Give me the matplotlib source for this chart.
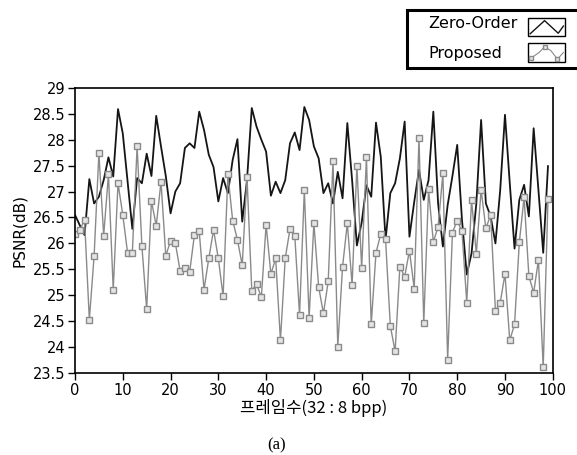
import numpy as np
import matplotlib
matplotlib.use('Agg')
from matplotlib import pyplot as plt
from matplotlib.patches import Rectangle
from matplotlib.lines import Line2D

plt.rcParams['font.family'] = ['Liberation Sans Narrow', 'DejaVu Sans']

frames = np.arange(100)

zero_order = [26.55, 26.35, 26.16, 27.24, 26.77, 26.90, 27.22, 27.66, 27.29, 28.59,
              28.12, 27.20, 26.28, 27.26, 27.16, 27.73, 27.30, 28.46, 27.87, 27.30,
              26.58, 27.00, 27.16, 27.84, 27.93, 27.84, 28.54, 28.19, 27.71, 27.47,
              26.81, 27.26, 26.97, 27.61, 28.01, 26.42, 27.22, 28.61, 28.25, 28.00,
              27.77, 26.92, 27.19, 26.97, 27.22, 27.93, 28.14, 27.80, 28.63, 28.38,
              27.87, 27.64, 26.97, 27.16, 26.77, 27.38, 26.87, 28.32, 27.22, 25.96,
              26.40, 27.12, 26.90, 28.33, 27.67, 26.07, 26.97, 27.16, 27.64, 28.35,
              26.13, 26.80, 27.42, 26.84, 27.22, 28.54, 26.77, 25.94, 26.74, 27.30,
              27.90, 26.45, 25.40, 25.81, 26.77, 28.38, 26.77, 26.52, 26.00, 27.03,
              28.48, 27.16, 25.90, 26.84, 27.13, 26.52, 28.22, 27.03, 25.82, 27.49]

proposed = [26.18, 26.26, 26.45, 24.53, 25.76, 27.74, 26.15, 27.33, 25.11, 27.16,
            26.55, 25.82, 25.82, 27.87, 25.95, 24.73, 26.82, 26.34, 27.19, 25.76,
            26.05, 26.01, 25.47, 25.53, 25.45, 26.17, 26.23, 25.11, 25.71, 26.26,
            25.71, 24.98, 27.33, 26.44, 26.07, 25.58, 27.28, 25.09, 25.22, 24.96,
            26.36, 25.41, 25.71, 24.13, 25.71, 26.28, 26.15, 24.62, 27.03, 24.57,
            26.39, 25.16, 24.65, 25.27, 27.59, 24.01, 25.55, 26.39, 25.20, 27.50,
            25.53, 27.66, 24.44, 25.82, 26.18, 26.08, 24.41, 23.92, 25.55, 25.36,
            25.86, 25.13, 28.03, 24.46, 27.04, 26.03, 26.32, 27.35, 23.76, 26.21,
            26.44, 26.23, 24.86, 26.84, 25.80, 27.03, 26.29, 26.55, 24.70, 24.86,
            25.41, 24.13, 24.44, 26.02, 26.89, 25.37, 25.05, 25.68, 23.61, 26.86]

series_names = ['Zero-Order', 'Proposed']
x_ticks = [0, 10, 20, 30, 40, 50, 60, 70, 80, 90, 100]
y_ticks = [23.5, 24, 24.5, 25, 25.5, 26, 26.5, 27, 27.5, 28, 28.5, 29]
y_labels = ['23.5', '24', '24.5', '25', '25.5', '26', '26.5', '27', '27.5', '28', '28.5', '29']

black = '#151515'
gray = '#8a8a8a'

fig = plt.figure(figsize=(5.77, 4.55), dpi=100, facecolor='w')
ax = fig.add_axes([0.130, 0.180, 0.828, 0.627])

ax.plot(frames, zero_order, color=black, lw=1.3)
ax.plot(frames, proposed, color=gray, lw=1.0, marker='s', markersize=5,
        mfc='#e4e4e4', mec=gray, mew=1.0)

ax.set_xlim(0, 100)
ax.set_ylim(23.5, 29)
ax.set_xticks(x_ticks)
ax.set_yticks(y_ticks)
ax.set_yticklabels(y_labels)
ax.tick_params(direction='out', length=5, width=1, labelsize=10.5, pad=2)
for s in ax.spines.values():
    s.set_linewidth(1.2)

ax.set_xlabel('프레임수(32 : 8 bpp)', fontsize=12,
              family=['Noto Sans CJK KR', 'DejaVu Sans'], labelpad=1)
ax.set_ylabel('PSNR(dB)', fontsize=11, labelpad=4)

fig.text(0.48, 0.022, '(a)', ha='center', va='center', fontsize=12,
         family=['Liberation Serif', 'DejaVu Serif'])

# legend box drawn by hand (text left aligned, icons in little boxes on the right)
tf = fig.transFigure
fig.patches.append(Rectangle((0.705, 0.8505), 0.35, 0.1275, transform=tf,
                             fc='white', ec='black', lw=2.2, clip_on=False))
fig.text(0.742, 0.949, series_names[0], ha='left', va='center', fontsize=11.5)
fig.text(0.742, 0.8835, series_names[1], ha='left', va='center', fontsize=11.5)

bx, bw = 0.915, 0.064
for by, bh in [(0.921, 0.0396), (0.8637, 0.0418)]:
    fig.patches.append(Rectangle((bx, by), bw, bh, transform=tf,
                                 fc='white', ec='black', lw=1.0))

zx = np.array([0.06, 0.45, 0.82, 0.96])
zy = np.array([0.12, 0.85, 0.15, 0.55])
fig.lines.append(Line2D(bx + zx * bw, 0.921 + zy * 0.0396, transform=tf,
                        color=black, lw=1.0))
px = np.array([0.08, 0.3, 0.45, 0.62, 0.8, 0.96])
py = np.array([0.2, 0.5, 0.8, 0.6, 0.15, 0.5])
fig.lines.append(Line2D(bx + px * bw, 0.8637 + py * 0.0418, transform=tf,
                        color=gray, lw=0.8, marker='s', markersize=3,
                        markevery=[0, 2, 4], mfc='#e4e4e4', mec=gray))

fig.savefig('out.png', dpi=100)
plt.close()
